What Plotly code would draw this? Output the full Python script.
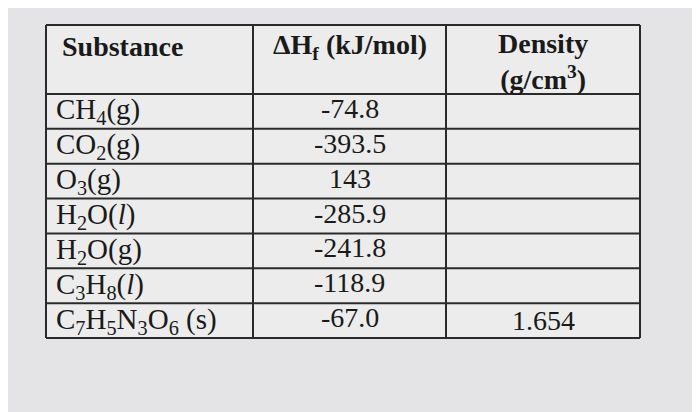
import plotly.graph_objects as go

headers = ["<b>Substance</b>", "<b>ΔH<sub>f</sub> (kJ/mol)</b>", "<b>Density</b><br><b>(g/cm<sup>3</sup>)</b>"]
substances = ["CH<sub>4</sub>(g)", "CO<sub>2</sub>(g)", "O<sub>3</sub>(g)", "H<sub>2</sub>O(<i>l</i>)",
              "H<sub>2</sub>O(g)", "C<sub>3</sub>H<sub>8</sub>(<i>l</i>)",
              "C<sub>7</sub>H<sub>5</sub>N<sub>3</sub>O<sub>6</sub> (s)"]
dHf = ["-74.8", "-393.5", "143", "-285.9", "-241.8", "-118.9", "-67.0"]
density = ["", "", "", "", "", "", "1.654"]

# layout geometry (pixels, compensating the page's 8px body margin)
off = 8
col_edges = [46 - off, 253 - off, 446 - off, 640 - off]
header_top, header_bot = 25 - off, 94 - off
row_h = (338 - 94) / len(substances)
line_col = "#2a2a2a"
font = "Liberation Serif"
hsize, csize = 28, 29

fig = go.Figure()
fig.add_trace(go.Scatter(x=[0, 700], y=[0, 412], mode="markers", marker=dict(opacity=0), hoverinfo="skip"))

row_edges = [header_top, header_bot] + [header_bot + row_h * (i + 1) for i in range(len(substances))]
fig.add_shape(type="rect", x0=col_edges[0], x1=col_edges[-1], y0=row_edges[0], y1=row_edges[-1],
              fillcolor="#ececec", line=dict(width=0), layer="below")
for y in row_edges:
    fig.add_shape(type="line", x0=col_edges[0], x1=col_edges[-1], y0=y, y1=y, line=dict(color=line_col, width=2))
for x in col_edges:
    fig.add_shape(type="line", x0=x, x1=x, y0=row_edges[0], y1=row_edges[-1], line=dict(color=line_col, width=2))

fig.add_annotation(x=col_edges[0] + 14, y=header_top + 21, text=headers[0], xanchor="left", yanchor="middle",
                   showarrow=False, font=dict(family=font, size=hsize, color="#1a1a1a"))
fig.add_annotation(x=(col_edges[1] + col_edges[2]) / 2, y=header_top + 21, text=headers[1], xanchor="center",
                   yanchor="middle", showarrow=False, font=dict(family=font, size=hsize, color="#1a1a1a"))
fig.add_annotation(x=(col_edges[2] + col_edges[3]) / 2, y=header_top + 36, text=headers[2], xanchor="center",
                   yanchor="middle", showarrow=False, font=dict(family=font, size=hsize, color="#1a1a1a"))

for i in range(len(substances)):
    yc = header_bot + row_h * (i + 0.5)
    fig.add_annotation(x=col_edges[0] + 8, y=yc, text=substances[i], xanchor="left", yanchor="middle",
                       showarrow=False, font=dict(family=font, size=csize, color="#1a1a1a"))
    fig.add_annotation(x=(col_edges[1] + col_edges[2]) / 2, y=yc - 3, text=dHf[i], xanchor="center",
                       yanchor="middle", showarrow=False, font=dict(family=font, size=csize - 1, color="#1a1a1a"))
    if density[i]:
        fig.add_annotation(x=(col_edges[2] + col_edges[3]) / 2, y=yc, text=density[i], xanchor="center",
                           yanchor="middle", showarrow=False, font=dict(family=font, size=csize - 1, color="#1a1a1a"))

fig.update_xaxes(range=[0, 700], visible=False, fixedrange=True)
fig.update_yaxes(range=[412, 0], visible=False, fixedrange=True)
fig.update_layout(width=700, height=412, margin=dict(l=0, r=0, t=0, b=0),
                  paper_bgcolor="#e4e4e6", plot_bgcolor="#e4e4e6", showlegend=False)
fig.write_html("out.html")
